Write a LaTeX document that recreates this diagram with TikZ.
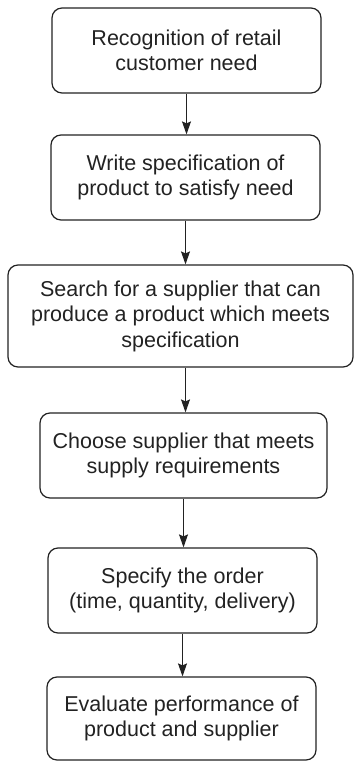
\documentclass[tikz,border=0pt]{standalone}
\usepackage{fontspec}
\setmainfont{Liberation Sans}
\usetikzlibrary{arrows.meta}
\definecolor{ink}{HTML}{222222}
\begin{document}
\begin{tikzpicture}[x=1pt,y=-1pt,
  stepbox/.style={draw=ink, line width=1.2pt, rounded corners=10pt, align=center,
    text=ink, inner sep=0pt, minimum height=85pt,
    font=\fontsize{21.5}{25.5}\selectfont},
  flow/.style={draw=ink, line width=1.1pt, -{Stealth[length=13pt,width=9pt,inset=2pt]}}]
\useasboundingbox (0,0) rectangle (355,762);
\node[stepbox, minimum width=269pt] (b1) at (186.5,50.5) {Recognition of retail\\customer need};
\node[stepbox, minimum width=269pt] (b2) at (185.5,177.5) {Write specification of\\product to satisfy need};
\node[stepbox, minimum width=345pt, minimum height=102pt] (b3) at (180.5,316) {Search for a supplier that can\\produce a product which meets\\specification};
\node[stepbox, minimum width=287pt] (b4) at (183.5,455.5) {Choose supplier that meets\\supply requirements};
\node[stepbox, minimum width=269pt] (b5) at (182.5,590.5) {Specify the order\\(time, quantity, delivery)};
\node[stepbox, minimum width=269pt, minimum height=83pt] (b6) at (181.5,718.5) {Evaluate performance of\\product and supplier};
\draw[flow] (b1.south) -- (b1.south |- b2.north);
\draw[flow] (b2.south) -- (b2.south |- b3.north);
\draw[flow] (b3.south) ++(5,0) coordinate (c3) -- (c3 |- b4.north);
\draw[flow] (b4.south) -- (b4.south |- b5.north);
\draw[flow] (b5.south) -- (b5.south |- b6.north);
\end{tikzpicture}
\end{document}
